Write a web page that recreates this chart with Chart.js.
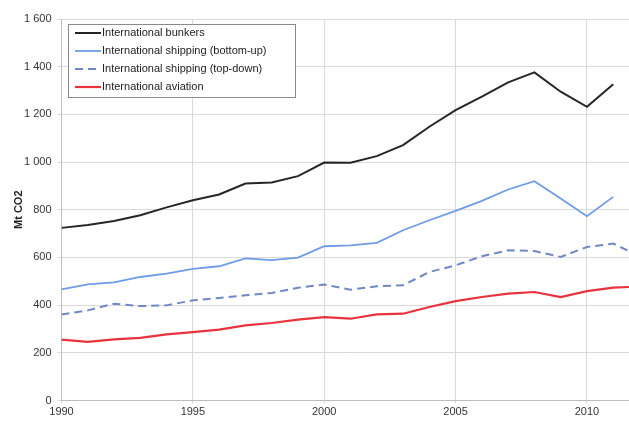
<!DOCTYPE html>
<html>
<head>
<meta charset="utf-8">
<script src="https://cdn.jsdelivr.net/npm/chart.js@4/dist/chart.umd.min.js"></script>
<style>
  body { margin: 0; background: #fff; }
  canvas { display: block; }
</style>
</head>
<body>
<canvas id="co2Chart" width="629" height="421"></canvas>
<script>
// Years on the x axis
var years = [1990, 1991, 1992, 1993, 1994, 1995, 1996, 1997, 1998, 1999, 2000,
             2001, 2002, 2003, 2004, 2005, 2006, 2007, 2008, 2009, 2010, 2011, 2012];

// Series values (Mt CO2)
var bunkers = [724, 736, 753, 777, 810, 840, 864, 910, 914, 941, 998,
               997, 1025, 1071, 1148, 1218, 1274, 1334, 1376, 1295, 1232, 1326, null];
var shippingBottomUp = [466, 487, 495, 518, 532, 552, 563, 596, 589, 599, 647,
                        651, 661, 714, 756, 795, 837, 885, 920, 847, 773, 854, null];
var shippingTopDown = [361, 378, 406, 396, 399, 420, 430, 441, 451, 473, 486,
                       465, 479, 483, 539, 567, 605, 630, 627, 602, 644, 658, 605];
var aviation = [255, 246, 256, 263, 277, 287, 297, 315, 325, 339, 350,
                343, 361, 364, 392, 417, 434, 448, 455, 434, 459, 473, 478];

var seriesNames = ['International bunkers', 'International shipping (bottom-up)',
                   'International shipping (top-down)', 'International aviation'];

var xTicks = [1990, 1995, 2000, 2005, 2010];

function toPoints(values) {
    return years.map(function (y, i) { return { x: y, y: values[i] }; });
}

// format 1600 -> "1 600"
function spaceThousands(v) {
    if (v >= 1000) {
        return Math.floor(v / 1000) + ' ' + String(v % 1000).padStart(3, '0');
    }
    return String(v);
}

// legend drawn inside the plot, top-left, like the original
var boxLegend = {
    id: 'boxLegend',
    afterDraw: function (chart) {
        var c = chart.ctx;
        var x0 = 68, y0 = 24, w = 227, h = 73;
        c.save();
        c.fillStyle = '#fff';
        c.fillRect(x0, y0, w, h);
        c.strokeStyle = '#8a8a8a';
        c.lineWidth = 1;
        c.strokeRect(x0 + 0.5, y0 + 0.5, w, h);
        c.font = '11px "Liberation Sans", Arial, sans-serif';
        c.textBaseline = 'middle';
        chart.data.datasets.forEach(function (ds, i) {
            var y = y0 + 9 + i * 18;
            c.beginPath();
            c.strokeStyle = ds.borderColor;
            c.lineWidth = ds.borderWidth;
            c.setLineDash(ds.borderDash || []);
            c.moveTo(75, y);
            c.lineTo(101, y);
            c.stroke();
            c.setLineDash([]);
            c.fillStyle = '#222';
            c.fillText(ds.label, 102, y);
        });
        c.restore();
    }
};

var ctx = document.getElementById('co2Chart').getContext('2d');

var co2Chart = new Chart(ctx, {
    type: 'line',
    data: {
        datasets: [{
            label: seriesNames[0],
            data: toPoints(bunkers),
            borderColor: '#262626',
            borderWidth: 2
        }, {
            label: seriesNames[1],
            data: toPoints(shippingBottomUp),
            borderColor: '#6f9be8',
            borderWidth: 1.8
        }, {
            label: seriesNames[2],
            data: toPoints(shippingTopDown),
            borderColor: '#7088c4',
            borderWidth: 2,
            borderDash: [8, 5]
        }, {
            label: seriesNames[3],
            data: toPoints(aviation),
            borderColor: '#e8333f',
            borderWidth: 2.2
        }]
    },
    options: {
        responsive: false,
        animation: false,
        spanGaps: false,
        elements: {
            point: { radius: 0 },
            line: { tension: 0 }
        },
        layout: {
            padding: { top: 19, left: 0, right: 0, bottom: 0 }
        },
        plugins: {
            legend: { display: false },
            tooltip: { enabled: false }
        },
        scales: {
            x: {
                type: 'linear',
                min: 1990,
                max: 2011.6,
                afterBuildTicks: function (scale) {
                    scale.ticks = xTicks.map(function (v) { return { value: v }; });
                },
                afterFit: function (scale) {
                    scale.height = 20.5;
                },
                ticks: {
                    color: '#333',
                    font: { size: 11, family: '"Liberation Sans", Arial, sans-serif' },
                    padding: 2,
                    maxRotation: 0,
                    callback: function (v) { return String(v); }
                },
                grid: { color: '#dadada', tickLength: 3 },
                border: { color: '#bdbdbd' }
            },
            y: {
                min: 0,
                max: 1600,
                afterFit: function (scale) {
                    scale.width = 61.5;
                },
                ticks: {
                    stepSize: 200,
                    color: '#333',
                    font: { size: 11, family: '"Liberation Sans", Arial, sans-serif' },
                    padding: 6,
                    callback: function (v) { return spaceThousands(v); }
                },
                title: {
                    display: true,
                    text: 'Mt CO2',
                    color: '#222',
                    font: { size: 11, weight: 'bold', family: '"Liberation Sans", Arial, sans-serif' },
                    padding: { top: 12, bottom: 0 }
                },
                grid: { color: '#dadada', tickLength: 4 },
                border: { color: '#bdbdbd' }
            }
        }
    },
    plugins: [boxLegend]
});
</script>
</body>
</html>
